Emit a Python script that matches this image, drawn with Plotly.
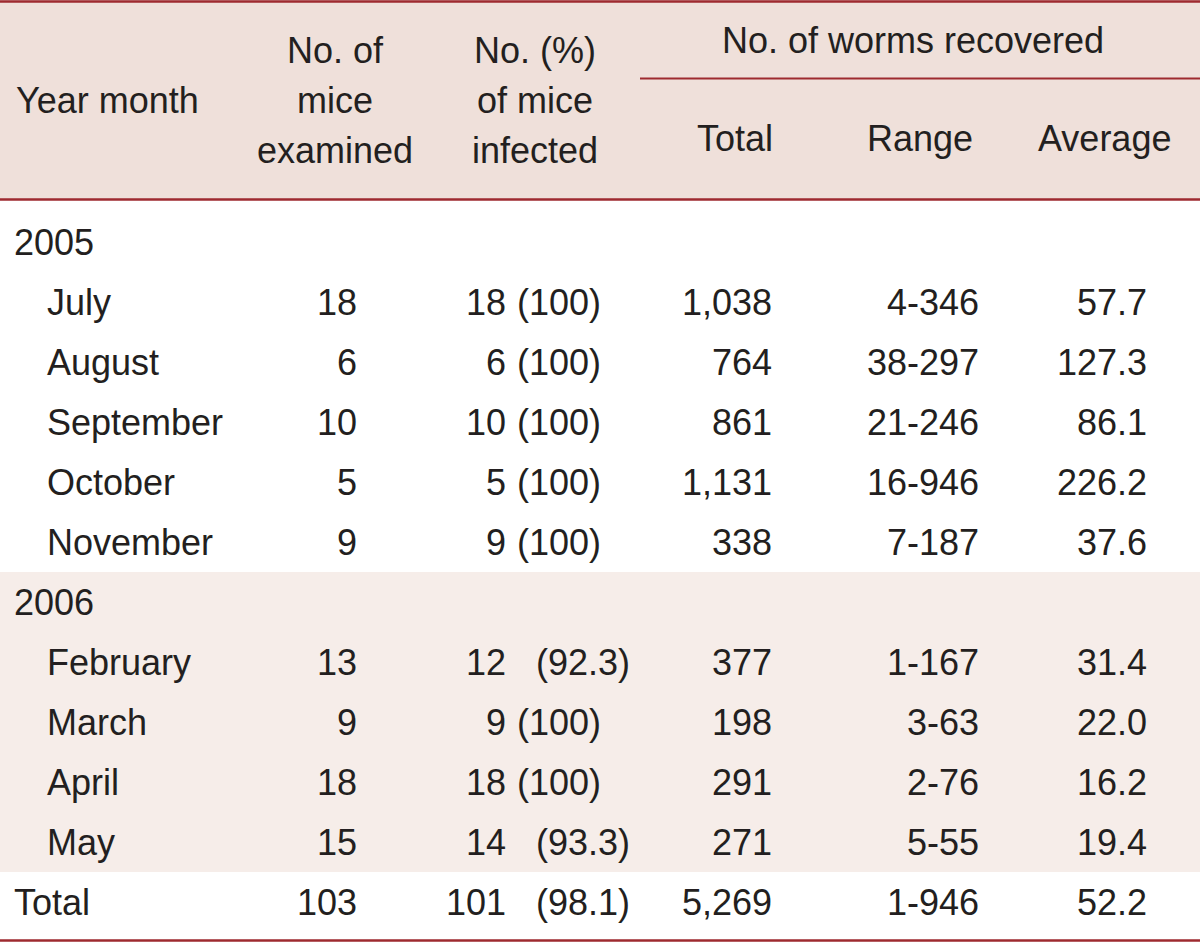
import plotly.graph_objects as go

# ---- data ----
years = ["2005", "2006"]
months_2005 = ["July", "August", "September", "October", "November"]
months_2006 = ["February", "March", "April", "May"]
months = months_2005 + months_2006
examined = [18, 6, 10, 5, 9, 13, 9, 18, 15]
infected = [18, 6, 10, 5, 9, 12, 9, 18, 14]
infected_pct = ["100", "100", "100", "100", "100", "92.3", "100", "100", "93.3"]
worms_total = ["1,038", "764", "861", "1,131", "338", "377", "198", "291", "271"]
worms_range = ["4-346", "38-297", "21-246", "16-946", "7-187", "1-167", "3-63", "2-76", "5-55"]
worms_avg = ["57.7", "127.3", "86.1", "226.2", "37.6", "31.4", "22.0", "16.2", "19.4"]
total_row = {"label": "Total", "examined": 103, "infected": 101, "pct": "98.1",
             "total": "5,269", "range": "1-946", "avg": "52.2"}
header_year = "Year month"
header_examined = ["No. of", "mice", "examined"]
header_infected = ["No. (%)", "of mice", "infected"]
group_header = "No. of worms recovered"
sub_headers = ["Total", "Range", "Average"]

# ---- style ----
FONT = "Liberation Sans, Arial, sans-serif"
FS = 36
TXT = "#231f20"
LINE = "#9e2a2f"
HEAD_BG = "#efe0da"
BAND_BG = "#f6ede9"

ROW_H = 60
Y0 = 246  # first body row centre

y_year05 = Y0
y_m05 = [Y0 + ROW_H * (i + 1) for i in range(len(months_2005))]
y_year06 = Y0 + ROW_H * (len(months_2005) + 1)
y_m06 = [y_year06 + ROW_H * (i + 1) for i in range(len(months_2006))]
y_months = y_m05 + y_m06
y_total = y_m06[-1] + ROW_H

fig = go.Figure()

def col(xs, ys, texts, pos):
    fig.add_trace(go.Scatter(x=xs, y=ys, text=texts, mode="text", textposition=pos,
                             textfont=dict(family=FONT, size=FS, color=TXT),
                             hoverinfo="skip", showlegend=False, cliponaxis=False))

n = len(months)
col([14, 14, 14], [y_year05, y_year06, y_total], [years[0], years[1], total_row["label"]], "middle right")
col([47] * n, y_months, months, "middle right")
col([357] * (n + 1), y_months + [y_total], [str(v) for v in examined] + [str(total_row["examined"])], "middle left")
col([506] * (n + 1), y_months + [y_total], [str(v) for v in infected] + [str(total_row["infected"])], "middle left")
pct_all = infected_pct + [total_row["pct"]]
col([517 if p == "100" else 536 for p in pct_all], y_months + [y_total],
    ["(" + p + ")" for p in pct_all], "middle right")
col([772] * (n + 1), y_months + [y_total], worms_total + [total_row["total"]], "middle left")
col([979] * (n + 1), y_months + [y_total], worms_range + [total_row["range"]], "middle left")
col([1147] * (n + 1), y_months + [y_total], worms_avg + [total_row["avg"]], "middle left")

shapes = [
    dict(type="rect", x0=0, x1=1200, y0=0, y1=199, fillcolor=HEAD_BG, line_width=0, layer="below"),
    dict(type="rect", x0=0, x1=1200, y0=572, y1=872, fillcolor=BAND_BG, line_width=0, layer="below"),
    dict(type="line", x0=0, x1=1200, y0=1.5, y1=1.5, line=dict(color=LINE, width=2.5)),
    dict(type="line", x0=0, x1=1200, y0=199.5, y1=199.5, line=dict(color=LINE, width=2.5)),
    dict(type="line", x0=640, x1=1200, y0=78.5, y1=78.5, line=dict(color=LINE, width=2)),
    dict(type="line", x0=0, x1=1200, y0=940.5, y1=940.5, line=dict(color=LINE, width=2.5)),
]

anns = []
def ann(x, y, text, xanchor="center"):
    anns.append(dict(x=x, y=y, xref="x", yref="y", text=text, showarrow=False,
                     xanchor=xanchor, yanchor="middle", align="center",
                     font=dict(family=FONT, size=FS, color=TXT)))

ann(14, 100, header_year, "left")
for i, t in enumerate(header_examined):
    ann(335, 50 + 50 * i, t)
for i, t in enumerate(header_infected):
    ann(535, 50 + 50 * i, t)
ann(913, 40, group_header)
ann(735, 138, sub_headers[0])
ann(920, 138, sub_headers[1])
ann(1104, 138, sub_headers[2])

fig.update_layout(
    width=1200, height=944, margin=dict(l=0, r=0, t=0, b=0),
    paper_bgcolor="white", plot_bgcolor="white",
    xaxis=dict(range=[0, 1200], visible=False, fixedrange=True),
    yaxis=dict(range=[944, 0], visible=False, fixedrange=True),
    shapes=shapes, annotations=anns,
)
fig.write_html("out.html", config={"displayModeBar": False},
               post_script="document.body.style.margin='0';document.body.style.overflow='hidden';")
